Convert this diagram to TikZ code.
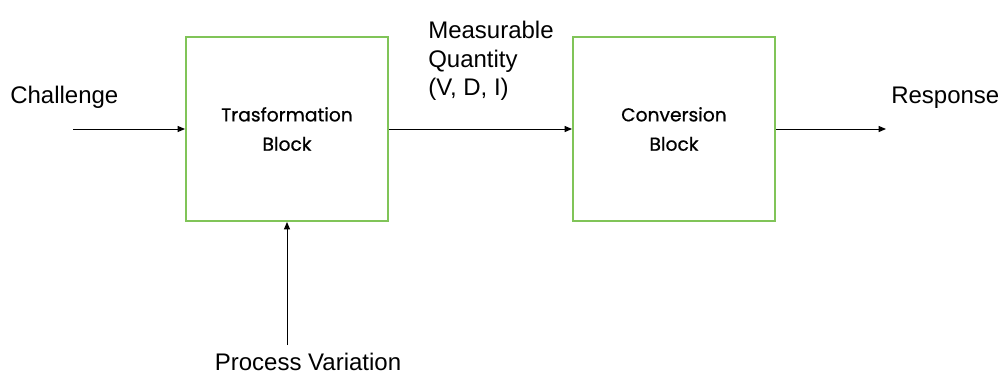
\documentclass[tikz,border=0pt]{standalone}
\usepackage{fontspec}
\setmainfont{Liberation Sans}
\newfontfamily\blockfont[RawFeature={embolden=0.7}]{Poppins}
\usepackage{xcolor}
\usetikzlibrary{arrows.meta}
\definecolor{blockgreen}{RGB}{128,196,88}
\tikzset{
  blockbox/.style={draw=blockgreen, line width=1.5pt, minimum width=151.5pt, minimum height=138pt, align=center, inner sep=0pt, font=\blockfont\fontsize{14}{22}\selectfont},
  signal/.style={-{Triangle[length=5.5pt,width=4.5pt]}, line width=0.75pt},
  lbl/.style={inner sep=0pt, font=\fontsize{18}{21.5}\selectfont}
}
\begin{document}
\begin{tikzpicture}[x=0.75pt,y=0.75pt,yscale=-1,xscale=1]
            \useasboundingbox (0,0) rectangle (1004,376);

            %Shape: Rectangle [id:trasformation]
            \node [blockbox] (trasf) at (287,129) {Trasformation\\Block};
            %Shape: Rectangle [id:conversion]
            \node [blockbox] (conv) at (674,129) {Conversion\\Block};

            %Free ends
            \coordinate (chin) at (73,129);
            \coordinate (resout) at (886,129);
            \coordinate (pvin) at (287,345);

            %Straight Lines
            \draw [signal] (chin) -- (trasf.west);
            \draw [signal] (trasf.east) -- (conv.west);
            \draw [signal] (conv.east) -- (resout);
            \draw [signal] (pvin) -- (trasf.south);

            % Text Node
            \node [lbl, anchor=base west] (challenge) at (10,103) {Challenge};
            % Text Node
            \node [lbl, anchor=base west] (response) at (891,103) {Response};
            % Text Node
            \node [lbl, anchor=north west, align=left] (quantity) at (428,21) {Measurable\\Quantity\\(V, D, I)};
            % Text Node
            \node [lbl, anchor=base] (procvar) at (308,370) {Process Variation};

\end{tikzpicture}
\end{document}
